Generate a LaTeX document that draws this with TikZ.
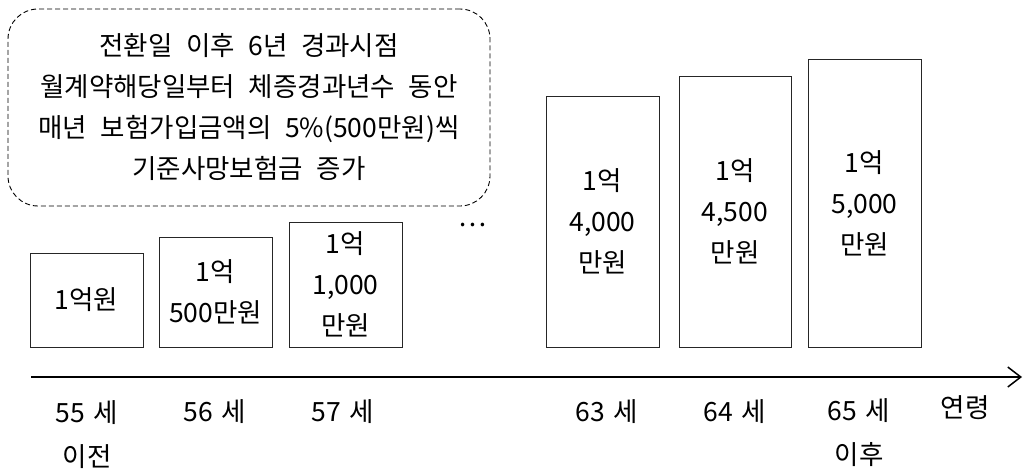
\documentclass[tikz,border=0pt]{standalone}
\usepackage{fontspec}
\setmainfont{Noto Sans CJK KR}[WordSpace=2.3]
\newfontfamily\agefamily{Noto Sans CJK KR}[WordSpace=1.4]
\usetikzlibrary{arrows.meta}
\begin{document}
\begin{tikzpicture}[x=1pt,y=-1pt,
  txt/.style={font=\fontsize{26.5}{41}\selectfont, align=center, inner sep=0pt},
  bar/.style={draw=black!85, line width=1pt, inner sep=0pt, txt},
  agelbl/.style={font=\agefamily\fontsize{26.5}{44}\selectfont, align=center, inner sep=0pt}]
\useasboundingbox (0,0) rectangle (1024,472);
% callout
\node[draw, dashed, dash pattern=on 5pt off 3pt, line width=0.9pt, rounded corners=30pt,
      minimum width=482pt, minimum height=197pt, txt] (note) at (249,107.5)
  {전환일 이후 6년 경과시점\\월계약해당일부터 체증경과년수 동안\\매년 보험가입금액의 5\%(500만원)씩\\기준사망보험금 증가};
% bars
\node[bar, minimum width=113pt, minimum height=94pt] (b1) at (86.5,300) {1억원};
\node[bar, minimum width=113pt, minimum height=110pt] (b2) at (215.5,292) {1억\\500만원};
\node[bar, minimum width=113pt, minimum height=125pt] (b3) at (345.5,284.5) {1억\\1,000\\만원};
\node[txt] (dots) at (473,225) {…};
\node[bar, minimum width=113pt, minimum height=251pt] (b4) at (602.5,221.5) {1억\\4,000\\만원};
\node[bar, minimum width=112pt, minimum height=271pt] (b5) at (735,211.5) {1억\\4,500\\만원};
\node[bar, minimum width=113pt, minimum height=288pt] (b6) at (864.5,203) {1억\\5,000\\만원};
% axis
\coordinate (a0) at (31,377);
\coordinate (a1) at (1022,377);
\draw[line width=1.8pt, -{Straight Barb[length=13pt,width=20pt,line width=1.5pt]}] (a0) -- (a1);
% labels
\node[agelbl] (l1) at (87,434.5) {55 세\\이전};
\node[agelbl] (l2) at (215,412) {56 세};
\node[agelbl] (l3) at (343,412) {57 세};
\node[agelbl] (l4) at (607,412) {63 세};
\node[agelbl] (l5) at (735,412) {64 세};
\node[agelbl] (l6) at (859,432.5) {65 세\\이후};
\node[agelbl] (l7) at (965,408) {연령};
\end{tikzpicture}
\end{document}
